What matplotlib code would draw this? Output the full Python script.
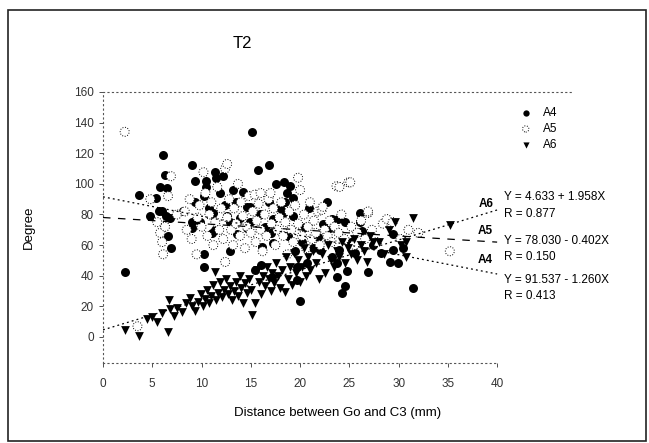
import matplotlib
matplotlib.use("Agg")
import matplotlib.pyplot as plt
from matplotlib.patches import Rectangle
import numpy as np

plt.rcParams['font.family'] = ['Liberation Sans', 'DejaVu Sans']

# A4 - filled circles
a4_x = [2.2, 3.7, 4.8, 5.4, 5.7, 5.8, 6.0, 6.1, 6.3, 6.5, 6.4, 6.6, 6.9, 6.8, 8.1, 9.0, 9.3, 9.3,
        9.0, 9.0, 9.8, 10.2, 10.2, 10.2, 10.5, 10.5, 10.8, 11.1, 11.2, 11.4, 11.5, 11.4, 11.9, 12.2,
        12.4, 12.6, 12.9, 12.9, 13.2, 13.5, 13.6, 13.9, 14.2, 14.6, 14.6, 14.9, 14.9, 15.1, 15.4,
        15.7, 15.9, 16.0, 16.1, 16.4, 16.8, 16.8, 17.0, 17.2, 17.3, 17.3, 17.6, 18.0, 18.3, 18.4,
        18.5, 18.7, 18.8, 19.0, 19.3, 19.3, 19.5, 19.7, 19.7, 20.0, 20.2, 20.5, 20.7, 20.9, 21.3,
        21.8, 22.0, 22.3, 22.7, 22.7, 23.2, 23.2, 23.7, 23.7, 23.9, 24.0, 24.3, 24.6, 24.6, 24.8,
        25.2, 25.6, 26.1, 26.1, 26.3, 26.9, 27.4, 28.2, 29.1, 29.4, 29.4, 29.9, 30.4, 31.5]
a4_y = [42.6, 93, 79, 91, 82, 98, 82, 119, 106, 97, 79, 66, 58, 78, 82, 112, 102, 88,
        71, 75, 75, 92, 46, 54, 102, 98, 84, 68, 81, 108, 103.6, 70, 94, 105,
        86, 79, 75, 56, 96, 88, 67, 78, 95, 85, 71, 85, 75, 134, 44,
        109, 80, 47, 59, 72, 112, 88, 68, 39, 77, 61.6, 100, 84, 81, 101,
        88, 94, 66, 98.5, 91, 79, 56, 46, 37, 23.6, 62, 72, 48.5, 84, 58,
        65, 57, 74, 88, 70, 77, 52, 48.5, 39, 77, 57, 29, 75, 33, 43,
        62, 55, 75, 81, 69, 42.6, 60, 55, 49, 67, 57, 48.5, 58, 32]

# A5 - open circles
a5_x = [2.2, 3.5, 4.8, 5.5, 5.8, 6.0, 6.1, 6.6, 6.9, 6.3, 7.5, 8.3, 8.5, 8.8, 9.0, 9.5, 9.6, 9.8,
        10.2, 10.0, 10.4, 10.6, 10.8, 11.0, 11.2, 11.4, 11.6, 11.8, 12.0, 12.2, 12.4, 12.4, 12.6,
        12.6, 12.8, 13.0, 13.2, 13.3, 13.5, 13.7, 13.9, 14.0, 14.2, 14.4, 14.6, 14.8, 15.0, 15.2,
        15.4, 15.5, 15.6, 15.8, 16.0, 16.0, 16.2, 16.4, 16.6, 16.8, 17.0, 17.1, 17.3, 17.5, 17.7,
        17.9, 18.1, 18.3, 18.5, 18.7, 18.9, 19.1, 19.3, 19.5, 19.8, 19.8, 20.0, 20.2, 20.4, 20.6,
        20.8, 21.0, 21.2, 21.4, 21.6, 21.8, 22.0, 22.2, 22.3, 22.5, 22.8, 23.0, 23.2, 23.5, 23.7,
        23.9, 24.0, 24.2, 24.5, 24.9, 25.1, 25.2, 25.5, 25.8, 26.2, 26.6, 26.9, 26.9, 27.3, 27.8,
        28.4, 28.8, 29.4, 30.2, 31.0, 32.0, 35.2]
a5_y = [134, 7, 90, 75, 68, 62, 54, 92, 105, 72, 80, 82, 70, 90, 64, 54, 78, 86,
        107.6, 72, 94, 66, 80, 88, 60, 75, 98, 70, 84, 64, 110, 49, 113,
        78, 90, 70, 60, 84, 74, 100, 66, 88, 79, 58, 72, 92, 68, 82,
        93, 62, 76, 87, 94, 70, 56, 80, 66, 90, 94, 74, 84, 60, 70,
        78, 88, 66, 75, 54, 82, 70, 62, 86, 104, 74, 96, 66, 80, 58,
        72, 88, 64, 76, 68, 82, 60, 83, 85, 70, 66, 76, 62, 72, 98.5,
        68, 98, 80, 64, 101, 101, 72, 60, 68, 76, 64, 81, 82, 70, 62,
        74, 77, 75, 64, 70, 68, 56]

# A6 - filled triangles
a6_x = [2.2, 3.7, 4.5, 5.0, 5.5, 6.0, 6.6, 6.7, 6.8, 7.2, 7.5, 8.0, 8.4, 8.8, 9.0, 9.3, 9.6, 9.9,
        10.1, 10.4, 10.6, 10.8, 11.0, 11.2, 11.4, 11.5, 11.7, 11.9, 12.1, 12.3, 12.5, 12.7, 12.9,
        13.1, 13.3, 13.5, 13.7, 13.9, 14.0, 14.2, 14.4, 14.6, 14.8, 15.0, 15.1, 15.4, 15.6, 15.8,
        16.0, 16.2, 16.4, 16.6, 16.8, 17.0, 17.2, 17.4, 17.6, 17.8, 18.0, 18.2, 18.5, 18.6, 18.8,
        19.0, 19.2, 19.4, 19.6, 19.8, 20.0, 20.2, 20.4, 20.6, 20.8, 21.0, 21.3, 21.6, 21.9, 22.2,
        22.5, 22.8, 23.1, 23.4, 23.7, 24.0, 24.3, 24.6, 24.9, 25.2, 25.5, 25.8, 26.2, 26.5, 26.8,
        27.1, 27.4, 28.0, 28.5, 29.0, 29.6, 30.2, 30.8, 30.8, 31.5, 35.2]
a6_y = [4.6, 0.6, 12, 13, 10, 15.7, 3.3, 24, 18, 14, 19, 16, 22, 25.5, 20, 17, 23, 28,
        20, 25, 31, 22, 27, 34, 42.6, 24, 29, 36, 26, 31, 38, 28, 33,
        24, 30, 36, 27, 40, 32, 22, 35, 29, 38, 31, 14.4, 22, 44, 36,
        28, 40, 33, 46, 38, 30, 42, 35, 48, 40, 32, 44, 29.5, 52, 38,
        46, 34, 55, 42, 50, 36, 46, 58, 40, 52, 44, 56, 48, 38, 54,
        42, 60, 50, 46, 56, 52, 62, 48, 58, 54, 64, 50, 60, 56, 49,
        66, 62, 62, 54, 70, 75, 60, 62, 52, 78, 73]

names = ["A4", "A5", "A6"]
intercepts = [91.537, 78.030, 4.633]
slopes = [-1.260, -0.402, 1.958]
r_values = [0.413, 0.150, 0.877]

fig = plt.figure(figsize=(6.49, 4.43), dpi=100)
W, H = 649, 443
ax = fig.add_axes([103 / W, 1 - 363 / H, (573 - 103) / W, (363 - 92) / H])

ax.scatter(a4_x, a4_y, s=42, marker='o', c='black', linewidths=0, label='A4', zorder=3)
ax.scatter(a5_x, a5_y, s=42, marker='o', facecolors='white', edgecolors='black',
           linewidths=0.7, linestyle=':', label='A5', zorder=3)
ax.scatter(a6_x, a6_y, s=40, marker='v', c='black', linewidths=0, label='A6', zorder=4)

xs = np.array([0, 40])
styles = [(0, (1.5, 2.5)), (0, (6, 6)), (0, (1.5, 2.5))]
for b, m, ls in zip(intercepts, slopes, styles):
    ax.plot(xs, b + m * xs, color='black', lw=0.9, linestyle=ls, zorder=5)

# line labels and equations
lab_y = [50.5, 68.9, 86.6]
eq_y = [37.4, 63.0, 91.1]
for n, b, m, r, ly, ey in zip(names, intercepts, slopes, r_values, lab_y, eq_y):
    ax.text(39.6, ly, n, ha='right', va='center', fontsize=8.5, fontweight='bold')
    sign = '+' if m > 0 else '-'
    ax.text(40.7, ey, f"Y = {b:.3f} {sign} {abs(m):.3f}X", ha='left', va='center', fontsize=8.5)
    ax.text(40.7, ey - 10.5, f"R = {r:.3f}", ha='left', va='center', fontsize=8.5)

ax.set_xlim(0, 47.7)
ax.set_ylim(-17, 160)
ax.set_xticks(np.arange(0, 41, 5))
ax.set_yticks(np.arange(0, 161, 20))
ax.tick_params(labelsize=8.5, colors='#333333', length=3, width=0.6)
ax.tick_params(axis='x', pad=8)

for s in ['left', 'top', 'bottom']:
    ax.spines[s].set_linestyle((0, (1, 3)))
    ax.spines[s].set_color('#555555')
    ax.spines[s].set_linewidth(0.8)
ax.spines['right'].set_visible(False)
ax.spines['bottom'].set_bounds(0, 40)

ax.set_xlabel("Distance between Go and C3 (mm)", fontsize=9.5, labelpad=12)
ax.set_ylabel("Degree", fontsize=9.5, labelpad=28)

fig.text(242 / W, 1 - 43 / H, "T2", ha='center', va='center', fontsize=12)

ax.legend(loc='upper left', bbox_to_anchor=(508 / W, 1 - 101 / H), bbox_transform=fig.transFigure,
          frameon=False, fontsize=8.5, handletextpad=0.5, labelspacing=0.35, borderpad=0,
          scatterpoints=1, markerscale=0.7)

fig.patches.append(Rectangle((8 / W, 1 - 441 / H), (646 - 8) / W, (441 - 10) / H,
                             transform=fig.transFigure, fill=False, edgecolor='#222222', lw=1.2))

fig.savefig("out.png", dpi=100)
